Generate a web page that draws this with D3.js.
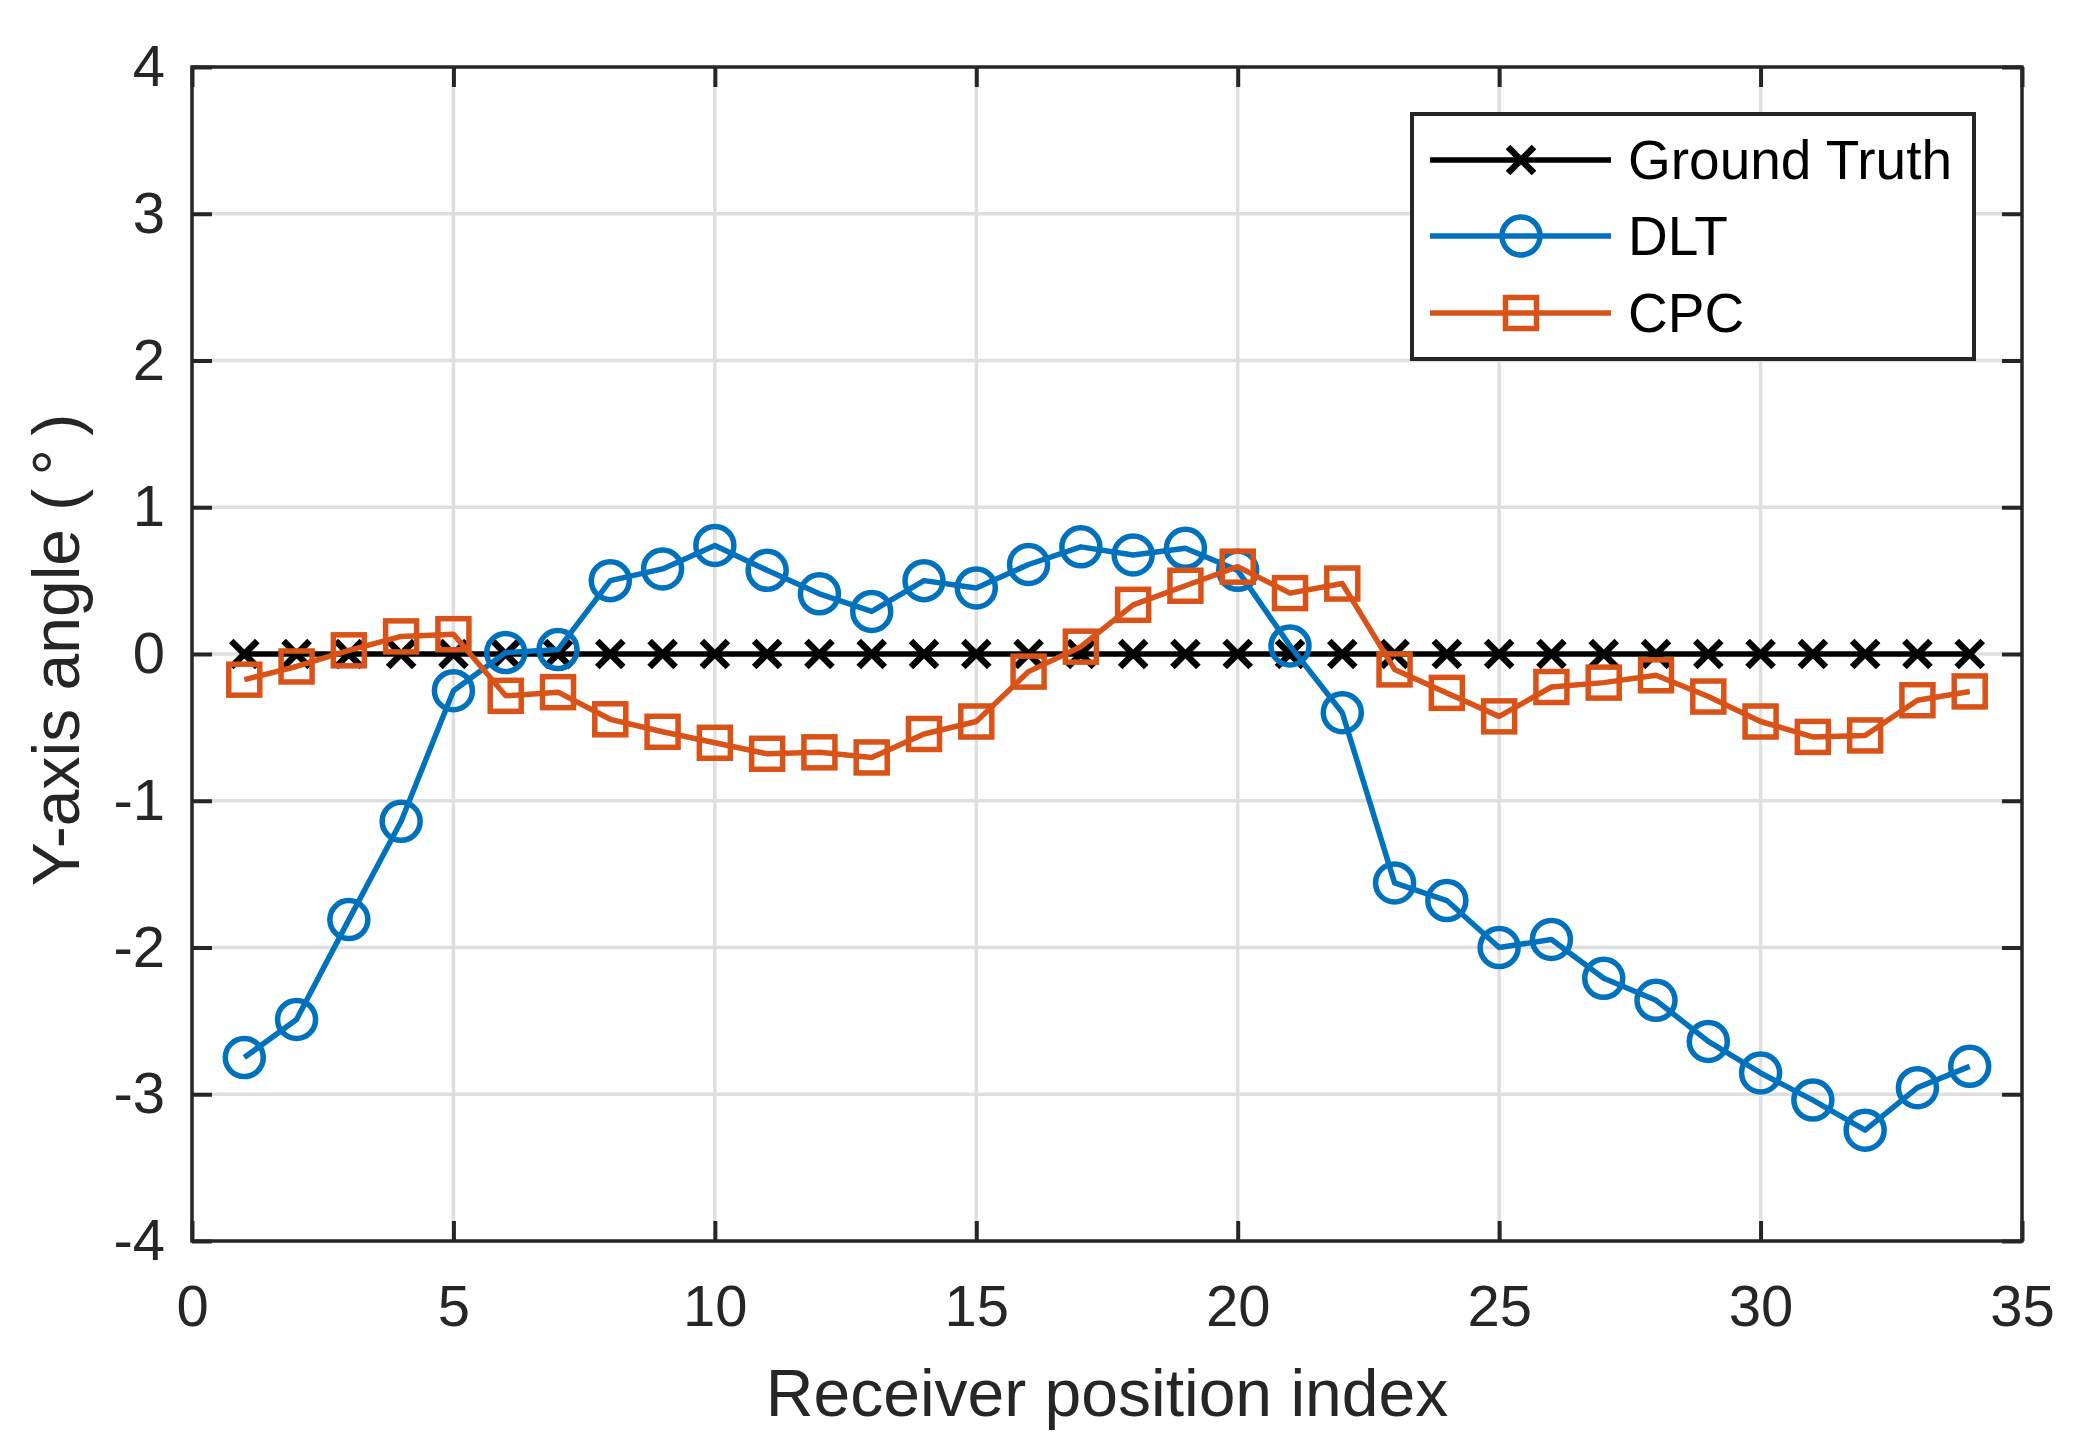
<!DOCTYPE html>
<html>
<head>
<meta charset="utf-8">
<script src="https://d3js.org/d3.v7.min.js"></script>
<style>
  body { margin: 0; background: #fff; }
  text { font-family: "Liberation Sans", Arial, sans-serif; }
</style>
</head>
<body>
<div id="graph1"></div>
<script>
// receiver index 1..34
let positions = d3.range(1, 35);
let groundTruth = positions.map(() => 0);
let dlt = [-2.75, -2.49, -1.81, -1.14, -0.25, 0.01, 0.03, 0.50, 0.58, 0.74,
           0.57, 0.41, 0.29, 0.50, 0.45, 0.61, 0.73, 0.675, 0.72, 0.57,
           0.055, -0.40, -1.56, -1.68, -2.00, -1.945, -2.21, -2.36, -2.64, -2.855,
           -3.04, -3.245, -2.955, -2.81];
let cpc = [-0.175, -0.085, 0.025, 0.12, 0.135, -0.285, -0.26, -0.445, -0.53, -0.605,
           -0.68, -0.67, -0.705, -0.545, -0.46, -0.12, 0.05, 0.335, 0.465, 0.595,
           0.415, 0.48, -0.105, -0.265, -0.425, -0.225, -0.195, -0.145, -0.29, -0.46,
           -0.565, -0.555, -0.315, -0.255];
let xTicks = [0, 5, 10, 15, 20, 25, 30, 35];
let yTicks = [-4, -3, -2, -1, 0, 1, 2, 3, 4];
let seriesNames = ["Ground Truth", "DLT", "CPC"];

let width = 2073,
    height = 1450;
const plot = {left: 192, right: 2022, top: 67, bottom: 1241};
const axisColor = "#262626";

let svg = d3.select("#graph1")
    .append("svg")
    .attr("width", width)
    .attr("height", height);

let x = d3.scaleLinear().domain([0, 35]).range([plot.left, plot.right]);
let y = d3.scaleLinear().domain([-4, 4]).range([plot.bottom, plot.top]);

// grid
svg.append("g").selectAll("line").data(xTicks.slice(1, -1)).enter()
    .append("line")
    .attr("x1", d => x(d)).attr("x2", d => x(d))
    .attr("y1", plot.top).attr("y2", plot.bottom)
    .attr("stroke", "#dfdfdf").attr("stroke-width", 3.5);
svg.append("g").selectAll("line").data(yTicks.slice(1, -1)).enter()
    .append("line")
    .attr("y1", d => y(d)).attr("y2", d => y(d))
    .attr("x1", plot.left).attr("x2", plot.right)
    .attr("stroke", "#dfdfdf").attr("stroke-width", 3.5);

// axes (ticks inward on all four sides), plain hyphen minus like the original
let fmt = d => String(d);
function styleAxis(g) {
    g.select(".domain").remove();
    g.selectAll(".tick line").attr("stroke", axisColor).attr("stroke-width", 4);
    g.selectAll(".tick text").attr("fill", axisColor).style("font-size", "58px");
}
svg.append("g")
    .attr("transform", "translate(0," + plot.bottom + ")")
    .call(d3.axisBottom(x).tickValues(xTicks).tickSize(-20).tickPadding(44).tickFormat(fmt))
    .call(styleAxis);
svg.append("g")
    .attr("transform", "translate(0," + plot.top + ")")
    .call(d3.axisTop(x).tickValues(xTicks).tickSize(-20).tickFormat(""))
    .call(styleAxis);
svg.append("g")
    .attr("transform", "translate(" + plot.left + ",0)")
    .call(d3.axisLeft(y).tickValues(yTicks).tickSize(-20).tickPadding(27).tickFormat(fmt))
    .call(styleAxis);
svg.append("g")
    .attr("transform", "translate(" + plot.right + ",0)")
    .call(d3.axisRight(y).tickValues(yTicks).tickSize(-20).tickFormat(""))
    .call(styleAxis);

svg.append("rect")
    .attr("x", plot.left).attr("y", plot.top)
    .attr("width", plot.right - plot.left).attr("height", plot.bottom - plot.top)
    .attr("fill", "none").attr("stroke", axisColor).attr("stroke-width", 3.5);

// labels
svg.append("text")
    .attr("x", (plot.left + plot.right) / 2).attr("y", 1416)
    .style("text-anchor", "middle").style("font-size", "66px")
    .attr("fill", axisColor)
    .text("Receiver position index");
svg.append("text")
    .attr("transform", "translate(79,650) rotate(-90)")
    .style("text-anchor", "middle").style("font-size", "66px")
    .attr("fill", axisColor)
    .text("Y-axis angle (\u2009°\u2009)");

// markers
function drawMarker(g, type, color) {
    if (type == "x") {
        g.append("path").attr("d", "M-13,-13L13,13M-13,13L13,-13")
            .attr("stroke", color).attr("stroke-width", 6.5).attr("fill", "none");
    } else if (type == "o") {
        g.append("circle").attr("r", 19)
            .attr("stroke", color).attr("stroke-width", 5.5).attr("fill", "none");
    } else {
        g.append("rect").attr("x", -15.5).attr("y", -15.5).attr("width", 31).attr("height", 31)
            .attr("stroke", color).attr("stroke-width", 5.5).attr("fill", "none");
    }
}

let series = [
    {name: seriesNames[0], values: groundTruth, color: "#000000", marker: "x"},
    {name: seriesNames[1], values: dlt, color: "#0072BD", marker: "o"},
    {name: seriesNames[2], values: cpc, color: "#D95319", marker: "s"}
];

let line = d3.line().x((d, i) => x(positions[i])).y(d => y(d));

series.forEach(function(s) {
    svg.append("path")
        .datum(s.values)
        .attr("d", line)
        .attr("fill", "none")
        .attr("stroke", s.color)
        .attr("stroke-width", 5.5)
        .attr("stroke-linejoin", "round");
    svg.append("g").selectAll("g").data(s.values).enter()
        .append("g")
        .attr("transform", (d, i) => "translate(" + x(positions[i]) + "," + y(d) + ")")
        .each(function() { drawMarker(d3.select(this), s.marker, s.color); });
});

// legend
let legend = svg.append("g");
legend.append("rect")
    .attr("x", 1412).attr("y", 114).attr("width", 562).attr("height", 245)
    .attr("fill", "#fff").attr("stroke", axisColor).attr("stroke-width", 4);
let rowY = [160, 236, 313];
series.forEach(function(s, i) {
    legend.append("line")
        .attr("x1", 1430).attr("x2", 1611).attr("y1", rowY[i]).attr("y2", rowY[i])
        .attr("stroke", s.color).attr("stroke-width", 5.5);
    drawMarker(legend.append("g").attr("transform", "translate(1521," + rowY[i] + ")"), s.marker, s.color);
    legend.append("text")
        .attr("x", 1628).attr("y", rowY[i]).attr("dy", "0.35em")
        .style("font-size", "55px").attr("fill", "#000")
        .text(s.name);
});
</script>
</body>
</html>
